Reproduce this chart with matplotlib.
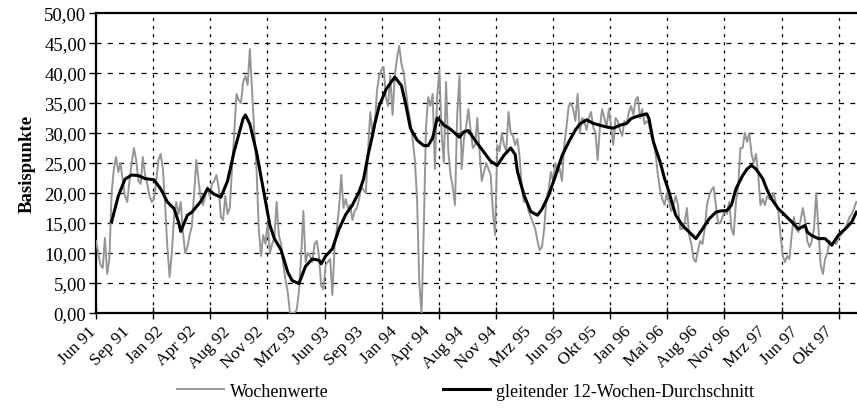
import numpy as np
import matplotlib.pyplot as plt
import matplotlib.transforms as mtransforms
from matplotlib.ticker import FuncFormatter

plt.rcParams['font.family'] = ['Liberation Serif', 'DejaVu Serif']

# x labels every 15 weeks, starting Jun 91
labels = ['Jun 91', 'Sep 91', 'Jan 92', 'Apr 92', 'Aug 92', 'Nov 92', 'Mrz 93', 'Jun 93',
          'Sep 93', 'Jan 94', 'Apr 94', 'Aug 94', 'Nov 94', 'Mrz 95', 'Jun 95', 'Okt 95',
          'Jan 96', 'Mai 96', 'Aug 96', 'Nov 96', 'Mrz 97', 'Jun 97', 'Okt 97']

# weekly values (Basispunkte)
weekly = [12, 10, 8, 7.5, 12.5, 6.5, 9, 20, 24, 26, 23.5, 25, 22, 19.5, 18.5, 22, 25, 27.5, 25.5, 22,
          21.5, 26, 23, 21.5, 19.5, 18.5, 19, 22, 25.5, 26.5, 24, 18, 11, 6, 10, 16, 18.5, 16.5, 18.5, 13.5,
          10, 11, 13, 14.5,
          20, 25.5, 22, 19, 18, 19.5, 21, 19.5, 21.5, 22, 23, 21, 16, 15.5, 19.5, 16.5, 17.5, 24, 30, 36.5,
          35.5, 35, 38.5, 39.5, 38, 44, 37, 30, 24, 14, 9.5, 13, 11.5, 15, 10, 11.5, 12.5, 18.5, 13, 11.5,
          8, 5.5, 3.5,
          0, 0, 0, 0.5, 3.5, 9.5, 17, 8.5, 10, 9.5, 8.5, 11.5, 12, 9.5, 4.5, 4, 8, 8.5, 9, 3,
          11, 14, 17.5, 23, 17.5, 19, 17.5, 18, 15.5, 17, 17.5, 19, 21, 20.5, 20, 27, 33.5, 30, 31, 37,
          39.5, 40.5, 41,
          36, 34.5, 39.5, 33, 39.5, 42.5, 44.5, 41.5, 40, 37, 34, 32, 29, 25.5, 19, 5, 0, 14, 31, 36,
          34.5, 36.5, 24, 36, 40.5, 30, 25, 38.5, 27, 23, 21, 18, 33, 39.5, 24, 29, 31, 34, 30.5, 27.5,
          28, 32.5, 27,
          22, 23.5, 25, 24, 23, 17, 13, 28, 27, 30, 28, 27, 33.5, 30, 29.5, 28, 29, 26, 20.5, 18.5,
          19, 17, 16, 15, 14, 12, 10.5, 11, 14, 19, 20.5, 23.5, 22, 25, 23.5, 24, 22, 28, 31, 34.5,
          35, 34, 32,
          36.5, 30, 32.5, 32, 30.5, 32.5, 33.5, 31, 30, 25.5, 31, 34, 32.5, 31, 34, 31, 28, 32.5, 32, 30.5,
          29.5, 32, 31.5, 33.5, 34.5, 33, 35.5, 36, 32.5, 34, 31.5, 32, 31.5, 29.5, 28.5, 26.5, 23, 20.5, 19, 18,
          20, 18.5, 17,
          18, 19.5, 18, 14, 14, 15, 17.5, 13, 11.5, 9, 8.5, 10.5, 12, 11.5, 14, 18, 19.5, 20.5, 21, 18,
          15, 15, 16, 17, 16.5, 18.5, 14, 13, 18.5, 21, 27.5, 27.5, 30, 28.5, 30, 26.5, 25, 26.5, 23, 18,
          19, 18, 19.5,
          19, 19, 20, 18, 17, 13, 9.5, 8.5, 9.5, 9, 13, 16, 14, 13.5, 15.5, 17.5, 15.5, 12, 11, 12,
          14, 20, 14, 8, 6.5, 9, 10, 12, 11.5, 12, 11.5, 12.5, 13, 13.5, 14, 15, 16, 16.5, 17.5, 18.5]

# 12-week moving average (week index, value)
ma_week = [7, 10, 13, 16, 19, 22, 26, 29, 32, 35, 37, 38, 41, 43, 47, 50, 53, 56, 59, 62,
           66, 67, 69, 72, 75, 78, 80, 83, 86, 88, 91, 94, 97, 100, 101, 103, 106, 109, 112, 115,
           118, 120, 122, 124, 125, 127, 130, 132, 134, 137, 139, 141, 144, 147, 149, 151, 153, 155, 156, 158,
           160, 163, 165, 167, 170, 172, 175, 177, 180, 183, 186, 188, 189, 192, 195, 198, 200, 203, 206, 209,
           212, 215, 217, 220, 223, 226, 229, 232, 235, 238, 240, 242, 244, 247, 248, 250, 253, 255, 257, 258,
           260, 263, 266, 269, 272, 275, 278, 280, 283, 285, 287, 290, 292, 294, 296, 299, 301, 303, 306, 309,
           312, 315, 318, 319, 321, 324, 327, 330, 333, 336, 339, 341]
ma_value = [15.2, 19.5, 22.3, 23.0, 22.9, 22.4, 22.2, 20.7, 18.5, 17.4, 15.2, 13.6, 16.3, 16.8, 18.6, 20.7, 19.8, 19.3, 22.0, 27.0,
            32.4, 33.0, 31.5, 26.8, 20.7, 14.6, 12.4, 10.5, 6.8, 5.4, 4.9, 7.8, 9.0, 8.8, 8.2, 9.5, 10.7, 14.0, 16.4, 18.0,
            20.2, 22.3, 26.3, 29.6, 31.5, 34.5, 37.2, 38.3, 39.3, 37.9, 34.6, 30.8, 28.8, 27.9, 27.9, 29.2, 32.5, 31.8, 31.3, 30.9,
            30.3, 29.3, 30.2, 30.4, 28.8, 27.8, 26.3, 25.3, 24.6, 26.3, 27.5, 26.4, 23.6, 19.6, 16.9, 16.3, 17.3, 19.6, 22.8, 26.2,
            28.5, 30.5, 31.5, 32.2, 31.6, 31.3, 31.0, 30.8, 31.3, 31.6, 32.4, 32.7, 32.9, 33.2, 32.4, 28.5, 25.2, 22.4, 20.2, 18.8,
            16.3, 14.6, 13.5, 12.4, 14.0, 15.7, 16.8, 17.0, 17.1, 18.0, 20.7, 22.9, 24.0, 24.6, 24.0, 22.4, 20.5, 19.0, 17.4, 16.3,
            15.2, 14.0, 14.6, 13.5, 12.9, 12.4, 12.4, 11.3, 13.0, 14.0, 15.2, 16.8]

fig = plt.figure(figsize=(8.57, 4.14), dpi=100)
ax = fig.add_axes([96 / 857, 100 / 414, 761 / 857, 300 / 414])

x = np.arange(len(weekly))
l1, = ax.plot(x, weekly, color='#959595', lw=1.4, zorder=3)
l2, = ax.plot(ma_week, ma_value, color='black', lw=2.2, zorder=4)

ax.set_xlim(0, 341.3)
ax.set_ylim(0, 50)
ax.set_yticks(np.arange(0, 51, 5))
ax.yaxis.set_major_formatter(FuncFormatter(lambda v, p: f'{v:.2f}'.replace('.', ',')))

# dashed grid
for v in range(5, 50, 5):
    ax.axhline(v, color='black', lw=0.9, ls=(0, (4, 5)), zorder=1)
tick_step = 25.62
tick_pos = np.arange(0, 342, tick_step)
for t in tick_pos[1:]:
    ax.axvline(t, color='black', lw=0.9, ls=(0, (2.5, 4)), zorder=1)

ax.xaxis.remove_overlapping_locs = False
ax.set_xticks(tick_pos)
ax.set_xticklabels([])
ax.set_xticks(np.arange(0, 15 * len(labels), 15), minor=True)
ax.set_xticklabels(labels, minor=True, rotation=45, ha='right', rotation_mode='anchor', fontsize=12.5)
ax.tick_params(axis='x', which='major', direction='inout', length=8, width=1)
ax.tick_params(axis='x', which='minor', length=0, pad=7)
ax.tick_params(axis='y', direction='out', length=5, width=1, labelsize=13.5, pad=2)

shift = mtransforms.ScaledTranslation(-8 / 100, 0, fig.dpi_scale_trans)
for lbl in ax.get_xticklabels(minor=True):
    lbl.set_transform(lbl.get_transform() + shift)

for s in ['left', 'bottom', 'top']:
    ax.spines[s].set_linewidth(1.6)
ax.spines['right'].set_visible(False)

ax.set_ylabel('Basispunkte', fontweight='bold', fontsize=13.5, labelpad=6)

fig.legend([l1, l2], ['Wochenwerte', 'gleitender 12-Wochen-Durchschnitt'],
           loc='center', bbox_to_anchor=(0.543, 0.053), ncol=2, frameon=False,
           handlelength=2.6, handletextpad=0.35, columnspacing=6.3, fontsize=13)

fig.savefig('out.png', dpi=100)
